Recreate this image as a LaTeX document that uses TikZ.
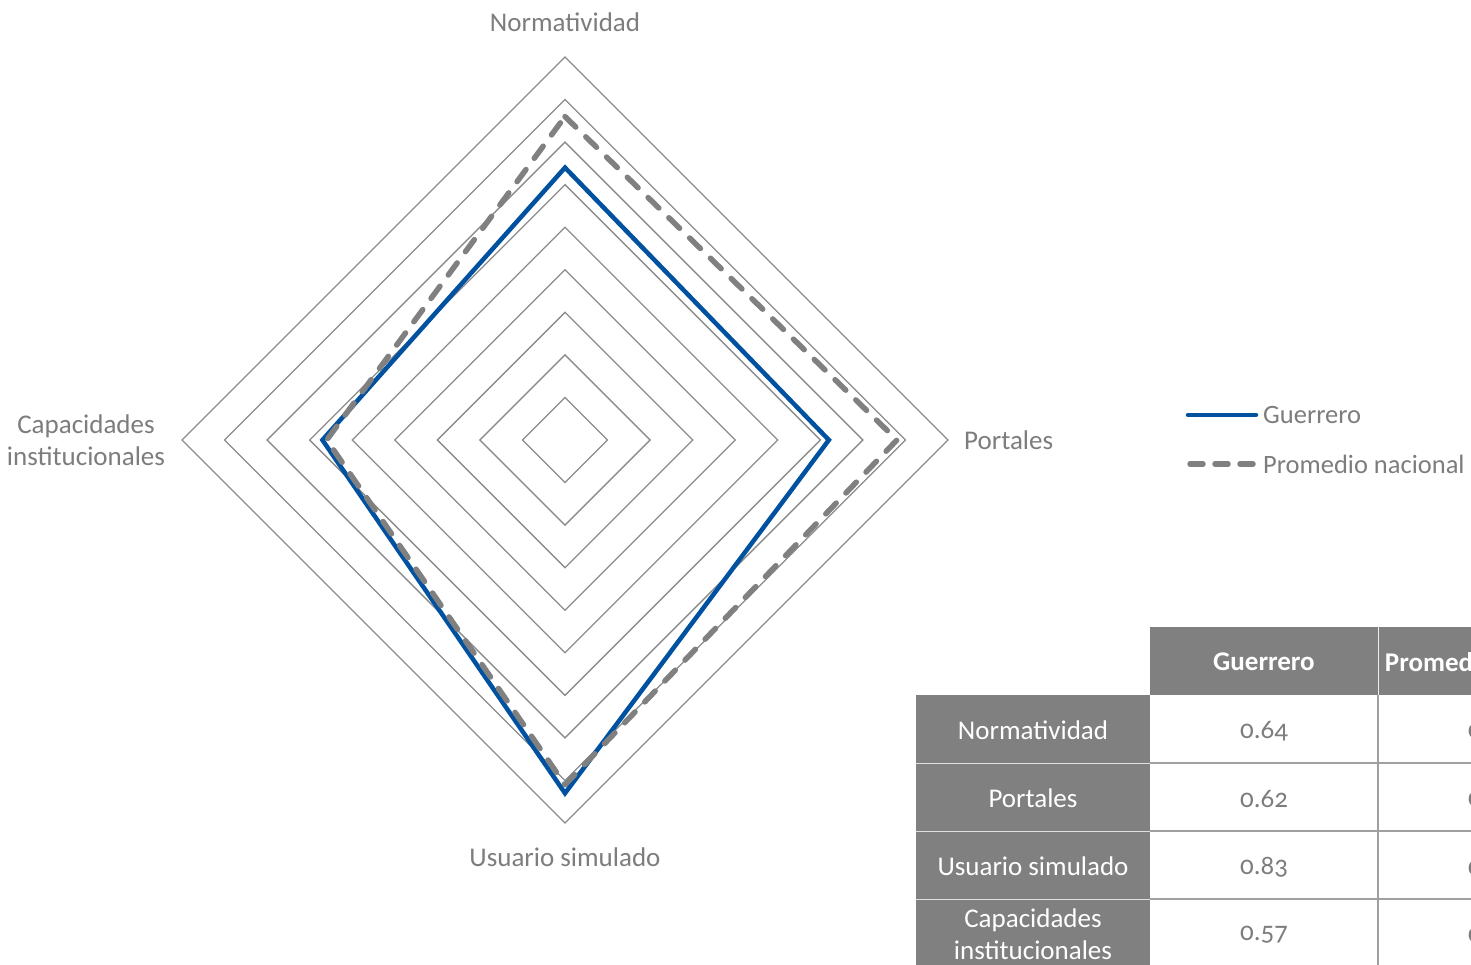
\documentclass[tikz,border=0pt]{standalone}
\usepackage{fontspec}
\setmainfont{Carlito}[Numbers=OldStyle]
\definecolor{gblue}{RGB}{0,82,160}
\definecolor{ggray}{RGB}{128,128,128}
\definecolor{ringgray}{RGB}{140,140,140}
\definecolor{txtgray}{RGB}{125,125,125}
\definecolor{cellline}{RGB}{160,160,160}
\tikzset{
  ring/.style={draw=ringgray, line width=1.3pt, line join=miter},
  guerrero/.style={draw=gblue, line width=4.5pt, line join=miter},
  promedio/.style={draw=ggray, line width=5.5pt, line cap=round, dash pattern=on 15pt off 14pt, line join=round},
  axislabel/.style={text=txtgray, font=\fontsize{27}{32}\selectfont, align=center, inner sep=0pt},
  legtext/.style={text=txtgray, font=\fontsize{26.5}{30}\selectfont, anchor=west, inner sep=0pt},
  hdrtext/.style={text=white, font=\fontsize{27}{30}\selectfont\bfseries, inner sep=0pt},
  lbltext/.style={text=white, font=\fontsize{27}{32}\selectfont, align=center, inner sep=0pt},
  valtext/.style={text=txtgray, font=\fontsize{27}{30}\selectfont, inner sep=0pt},
}
\begin{document}
\begin{tikzpicture}[x=1pt,y=-1pt]
\path[use as bounding box, clip] (0,0) rectangle (1471,965);
\fill[white] (0,0) rectangle (1471,965);
% rings
\coordinate (C) at (565,440);
\foreach \k in {1,...,9}{
  \pgfmathsetmacro{\r}{\k*42.556}
  \draw[ring] (565,440-\r) -- (565+\r,440) -- (565,440+\r) -- (565-\r,440) -- cycle;
}
% data
\def\R{425.56}
\coordinate (g1) at (565,{440-\R*0.64});
\coordinate (g2) at ({565+\R*0.62},440);
\coordinate (g3) at (565,{440+\R*0.83});
\coordinate (g4) at ({565-\R*0.57},440);
\coordinate (p1) at (565,{440-\R*0.76});
\coordinate (p2) at ({565+\R*0.78},440);
\coordinate (p3) at (565,{440+\R*0.81});
\coordinate (p4) at ({565-\R*0.56},440);
\draw[guerrero] (g1) -- (g2) -- (g3) -- (g4) -- cycle;
\draw[promedio] (p1) -- (p2) -- (p3) -- (p4) -- cycle;
% axis labels
\node[axislabel] (lN) at (565,22) {Normatividad};
\node[axislabel, anchor=west] (lP) at (964,440) {Portales};
\node[axislabel] (lU) at (565,857) {Usuario simulado};
\node[axislabel] (lC) at (86,440) {Capacidades\\institucionales};
% legend
\coordinate (la1) at (1188,415);
\coordinate (la2) at (1256,415);
\coordinate (lb1) at (1190,464);
\coordinate (lb2) at (1253,464);
\draw[draw=gblue, line width=4.5pt, line cap=round] (la1) -- (la2);
\draw[draw=ggray, line width=5.5pt, line cap=round, dash pattern=on 13pt off 12pt] (lb1) -- (lb2);
\node[legtext] (lg) at (1263,415) {Guerrero};
\node[legtext] (lp) at (1263,464) {Promedio nacional};
% table
\fill[ggray] (1150,627) rectangle (1606,695);
\fill[ggray] (916,695) rectangle (1150,1035);
\draw[white!85!ggray, line width=1pt] (1378,627) -- (1378,695);
\foreach \y in {763,831,899}{
  \draw[white!75!ggray, line width=1pt] (916,\y) -- (1150,\y);
  \draw[cellline, line width=1.5pt] (1150,\y) -- (1606,\y);
}
\draw[cellline, line width=1.5pt] (1378,695) -- (1378,1035);
\node[hdrtext] (h1) at (1264,662) {Guerrero};
\node[hdrtext] (h2) at (1490,662) {Promedio nacional};
\node[lbltext] (r1) at (1033,730) {Normatividad};
\node[lbltext] (r2) at (1033,798) {Portales};
\node[lbltext] (r3) at (1033,866) {Usuario simulado};
\node[lbltext] (r4) at (1033,934) {Capacidades\\institucionales};
\node[valtext] (v1) at (1264,731) {0.64};
\node[valtext] (v2) at (1264,799) {0.62};
\node[valtext] (v3) at (1264,867) {0.83};
\node[valtext] (v4) at (1264,935) {0.57};
\node[valtext] (w1) at (1492,731) {0.76};
\node[valtext] (w2) at (1492,799) {0.78};
\node[valtext] (w3) at (1492,867) {0.81};
\node[valtext] (w4) at (1492,935) {0.56};
\end{tikzpicture}
\end{document}
